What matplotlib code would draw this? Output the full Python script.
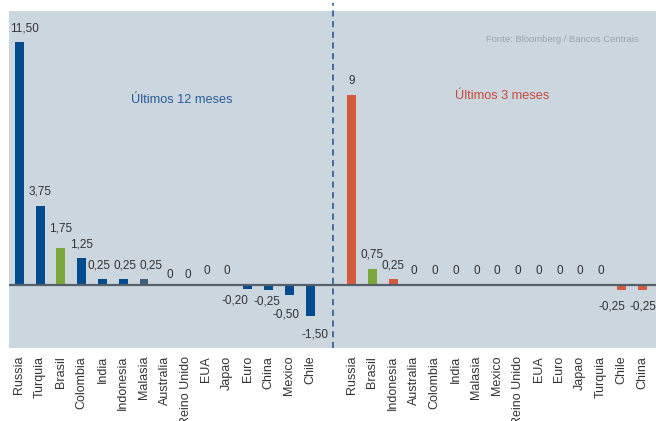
import matplotlib
matplotlib.use('Agg')
import matplotlib.pyplot as plt

plt.rcParams['font.family'] = ['Liberation Sans', 'DejaVu Sans']

# ultimos 12 meses
paises_12m = ['Russia', 'Turquia', 'Brasil', 'Colombia', 'India', 'Indonesia', 'Malasia',
              'Australia', 'Reino Unido', 'EUA', 'Japao', 'Euro', 'China', 'Mexico', 'Chile']
valores_12m = [11.50, 3.75, 1.75, 1.25, 0.25, 0.25, 0.25, 0, 0, 0, 0, -0.20, -0.25, -0.50, -1.50]
rotulos_12m = ['11,50', '3,75', '1,75', '1,25', '0,25', '0,25', '0,25', '0', '0', '0', '0',
               '-0,20', '-0,25', '-0,50', '-1,50']

# ultimos 3 meses
paises_3m = ['Russia', 'Brasil', 'Indonesia', 'Australia', 'Colombia', 'India', 'Malasia',
             'Mexico', 'Reino Unido', 'EUA', 'Euro', 'Japao', 'Turquia', 'Chile', 'China']
valores_3m = [9, 0.75, 0.25, 0, 0, 0, 0, 0, 0, 0, 0, 0, 0, -0.25, -0.25]
rotulos_3m = ['9', '0,75', '0,25', '0', '0', '0', '0', '0', '0', '0', '0', '0', '0',
              '-0,25', '-0,25']

azul = '#004b8d'
verde = '#7aa83a'
laranja = '#d35b3b'
ardosia = '#3f5f7f'
fundo = '#cbd6df'

cores_12m = [azul] * len(paises_12m)
cores_12m[paises_12m.index('Brasil')] = verde
cores_12m[paises_12m.index('Malasia')] = ardosia
cores_3m = [laranja] * len(paises_3m)
cores_3m[paises_3m.index('Brasil')] = verde

x12 = list(range(len(paises_12m)))
x3 = [i + len(paises_12m) + 1 for i in range(len(paises_3m))]

# pequenos deslocamentos dos rotulos (px) para nao encavalar
ajuste_12m = {0: (5, 0), 2: (0, 5), 4: (-3, 0), 5: (2, 0), 6: (7, 0),
              7: (5, -4), 8: (2, -4), 11: (-13, 0), 12: (-2, 0), 13: (-3, -7), 14: (5, -6)}
ajuste_3m = {13: (-10, -5), 14: (0, -5)}

fig = plt.figure(figsize=(6.56, 4.21), dpi=100)
ax = fig.add_axes([9 / 656, 73.5 / 421, 647 / 656, 336.7 / 421])
ax.set_facecolor(fundo)

ax.bar(x12, valores_12m, width=0.43, color=cores_12m, zorder=2)
ax.bar(x3, valores_3m, width=0.43, color=cores_3m, zorder=2)
ax.axhline(0, color='#56606a', lw=1.6, zorder=3)
ax.axvline(15.1, ymin=0, ymax=1.024, color='#1f4e8a', lw=1.1, ls=(0, (4, 3)),
           clip_on=False, zorder=3)

for xs, vals, rots, ajuste in [(x12, valores_12m, rotulos_12m, ajuste_12m),
                               (x3, valores_3m, rotulos_3m, ajuste_3m)]:
    for i, (xi, v, r) in enumerate(zip(xs, vals, rots)):
        dx, dy = ajuste.get(i, (0, 0))
        if v >= 0:
            ax.annotate(r, (xi, v), xytext=(dx * 0.72, (8 + dy) * 0.72),
                        textcoords='offset points', ha='center', va='bottom',
                        fontsize=8.5, color='#333333')
        else:
            ax.annotate(r, (xi, v), xytext=(dx * 0.72, (-6 + dy) * 0.72),
                        textcoords='offset points', ha='center', va='top',
                        fontsize=8.5, color='#333333')

ax.text(7.82, 8.79, 'Últimos 12 meses', ha='center', va='center', fontsize=9.2,
        color='#2a5c9a')
ax.text(23.23, 8.98, 'Últimos 3 meses', ha='center', va='center', fontsize=9.2,
        color='#c8493a')
ax.text(29.83, 11.64, 'Fonte: Bloomberg / Bancos Centrais', ha='right', va='center',
        fontsize=6.8, color='#9ba4ad')

ax.set_xlim(-0.5, 30.65)
ax.set_ylim(-2.98, 13.0)
ax.set_xticks(x12 + x3)
ax.set_xticklabels(paises_12m + paises_3m, rotation=90, fontsize=9, color='#333333')
ax.tick_params(axis='x', length=0, pad=6)
ax.set_yticks([])
for s in ax.spines.values():
    s.set_visible(False)

fig.savefig('out.png', dpi=100)
